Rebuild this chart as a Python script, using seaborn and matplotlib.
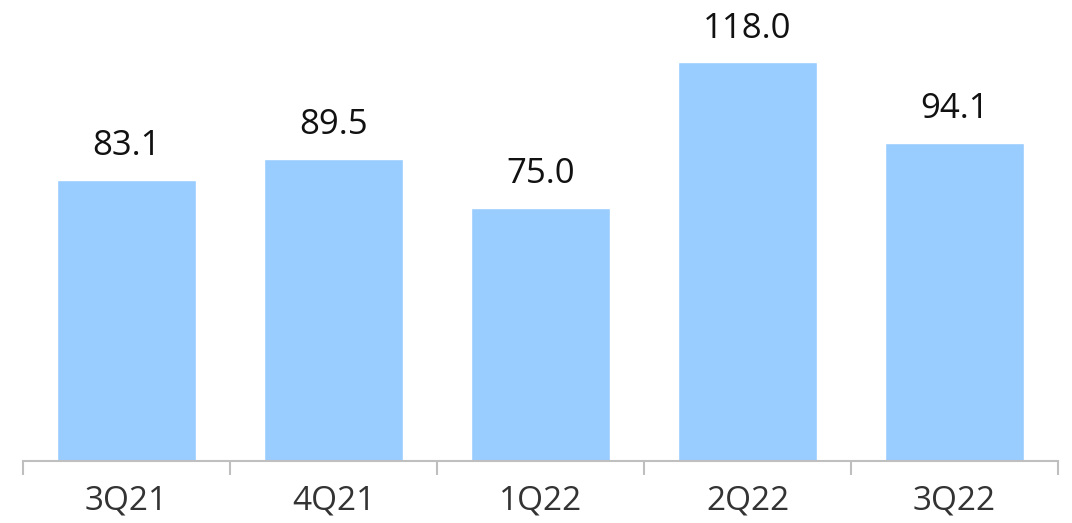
import matplotlib
matplotlib.use("Agg")
import matplotlib.pyplot as plt
import seaborn as sns
import numpy as np

# ── Data ─────────────────────────────────────────────────────
quarters = ["3Q21", "4Q21", "1Q22", "2Q22", "3Q22"]
values = [83.1, 89.5, 75.0, 118.0, 94.1]

BAR_COLOR = "#99CCFF"

sns.set_theme(style="white")
plt.rcParams["font.family"] = ["Open Sans", "DejaVu Sans"]

fig = plt.figure(figsize=(10.72, 5.23), dpi=100)
ax = fig.add_axes([23 / 1072, 62 / 523, 1035 / 1072, 461 / 523])

sns.barplot(x=quarters, y=values, color=BAR_COLOR, width=0.667,
            saturation=1, ax=ax)

for i, v in enumerate(values):
    ax.annotate(f"{v:.1f}", (i, v), xytext=(0, 12), textcoords="offset points",
                ha="center", va="bottom", fontsize=25, color="#111111")

ax.set_xlim(-0.5, len(quarters) - 0.5)
ax.set_ylim(0, 136.4)
ax.set_yticks([])
for s in ["top", "right", "left"]:
    ax.spines[s].set_visible(False)
ax.spines["bottom"].set_color("#BFBFBF")
ax.spines["bottom"].set_linewidth(1.5)

# category labels, with tick marks at the boundaries
ax.tick_params(axis="x", which="major", length=0, labelsize=24,
               labelcolor="#333333", pad=17)
ax.set_xticks(np.arange(-0.5, len(quarters)), minor=True)
ax.tick_params(axis="x", which="minor", bottom=True, length=10, width=1.5,
               color="#BFBFBF", direction="out")
ax.set_xlabel("")

fig.savefig("out.png", dpi=100)
